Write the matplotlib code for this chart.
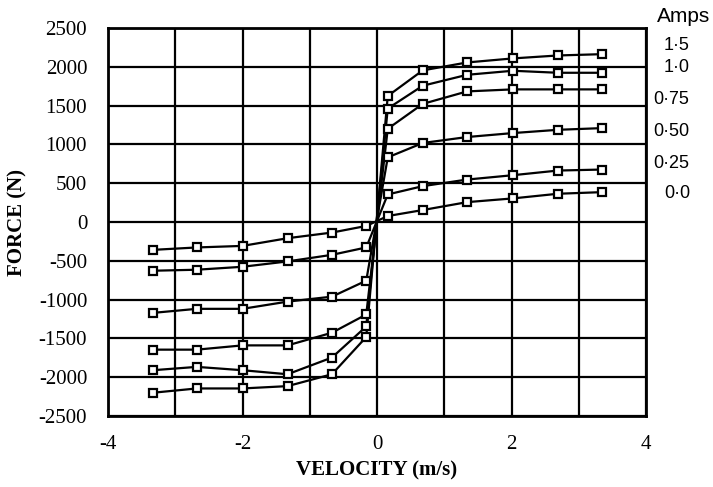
import matplotlib
matplotlib.use("Agg")
import matplotlib.pyplot as plt

plt.rcParams["axes.unicode_minus"] = False

# Velocity points (m/s)
velocity = [-3.33, -2.68, -2.0, -1.33, -0.67, -0.16, 0.16, 0.68, 1.34, 2.02, 2.69, 3.35]

# Force (N) for each current level (Amps)
currents = ["1·5", "1·0", "0·75", "0·50", "0·25", "0·0"]
force_1_5 = [-2200, -2145, -2145, -2115, -1962, -1482, 1624, 1954, 2056, 2108, 2146, 2163]
force_1_0 = [-1910, -1867, -1910, -1962, -1747, -1346, 1462, 1756, 1897, 1949, 1923, 1923]
force_0_75 = [-1645, -1645, -1590, -1590, -1427, -1192, 1201, 1522, 1683, 1709, 1709, 1709]
force_0_50 = [-1171, -1119, -1119, -1026, -962, -756, 833, 1018, 1095, 1146, 1188, 1210]
force_0_25 = [-628, -615, -577, -508, -423, -328, 355, 462, 547, 603, 663, 676]
force_0_0 = [-359, -328, -308, -209, -136, -51, 77, 154, 256, 304, 364, 385]
series = [force_1_5, force_1_0, force_0_75, force_0_50, force_0_25, force_0_0]

x_ticks = [-4, -2, 0, 2, 4]
y_ticks = [-2500, -2000, -1500, -1000, -500, 0, 500, 1000, 1500, 2000, 2500]

W, H = 713, 487
fig = plt.figure(figsize=(W / 100, H / 100), dpi=100)
ax = fig.add_axes([108 / W, 1 - 416 / H, (646 - 108) / W, (416 - 28) / H])

for f in series:
    ax.plot(velocity, f, color="black", lw=1.6, marker="s", ms=6,
            mfc="white", mec="black", mew=1.6, zorder=3)

ax.set_xlim(-4, 4)
ax.set_ylim(-2500, 2500)
ax.set_xticks(x_ticks)
ax.set_xticks([-3, -1, 1, 3], minor=True)
ax.set_yticks(y_ticks)
ax.grid(True, which="both", color="black", lw=1.6)
ax.tick_params(which="both", length=0)
ax.tick_params(axis="y", pad=15)
ax.tick_params(axis="x", pad=14)
for lab in ax.get_xticklabels() + ax.get_yticklabels():
    lab.set_family("Liberation Serif")
    lab.set_fontsize(15)
for s in ax.spines.values():
    s.set_linewidth(2)
    s.set_color("black")

ax.set_xlabel("VELOCITY (m/s)", family="Liberation Serif", fontweight="bold",
              fontsize=15, labelpad=4)
ax.set_ylabel("FORCE (N)", family="Liberation Serif", fontweight="bold",
              fontsize=15, labelpad=8)

# Right-hand labels
fig.text(684 / W, 1 - 17 / H, "Amps", family="Liberation Sans", fontsize=15,
         ha="center", va="center")
label_pos = [(677, 46), (677, 68), (671, 100), (671, 132), (671, 164), (677, 193)]
for txt, (px, py) in zip(currents, label_pos):
    fig.text(px / W, 1 - py / H, txt, family="Liberation Sans", fontsize=13,
             ha="center", va="center")

fig.savefig("out.png", dpi=100)
